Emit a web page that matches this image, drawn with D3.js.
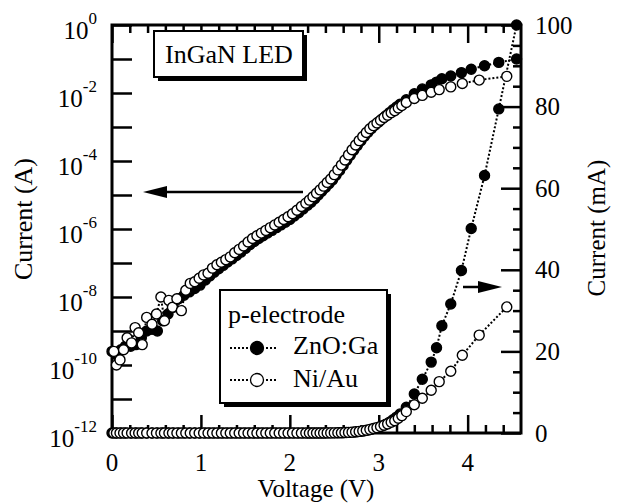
<!DOCTYPE html>
<html>
<head>
<meta charset="utf-8">
<script src="https://cdn.jsdelivr.net/npm/d3@7"></script>
<style>
  body { margin: 0; background: #fff; }
  svg { display: block; }
</style>
</head>
<body>
<svg id="chart" width="617" height="504"></svg>
<script>
"use strict";

// p-electrode ZnO:Ga (filled) : voltage (V) and log10 of current (A)
const voltZnO = [0.00, 0.05, 0.10, 0.15, 0.21, 0.27, 0.33, 0.39, 0.45, 0.51, 0.57, 0.63, 0.69, 0.75, 0.81, 0.87, 0.93, 0.99,
  1.05, 1.10, 1.15, 1.20, 1.25, 1.30, 1.35, 1.40, 1.45, 1.50, 1.55, 1.60, 1.65, 1.70, 1.75, 1.80, 1.85, 1.90, 1.95, 2.00, 2.05, 2.10, 2.15, 2.20,
  2.24, 2.28, 2.32, 2.36, 2.40, 2.44, 2.48, 2.52, 2.56, 2.60, 2.64, 2.68, 2.72, 2.76, 2.80, 2.84, 2.88, 2.92, 2.96, 3.00, 3.04, 3.08, 3.12, 3.16, 3.20, 3.24,
  3.31, 3.40, 3.49, 3.59, 3.65, 3.71, 3.81, 3.93, 4.04, 4.19, 4.35, 4.55];
const logCurrentZnO = [-9.60, -9.70, -9.55, -9.45, -9.45, -9.40, -9.20, -9.00, -8.95, -9.00, -8.70, -8.50, -8.30, -8.05, -7.95, -7.85, -7.75, -7.65,
  -7.50, -7.38, -7.27, -7.17, -7.07, -6.97, -6.88, -6.78, -6.68, -6.57, -6.46, -6.37, -6.28, -6.20, -6.12, -6.04, -5.96, -5.88, -5.80, -5.72, -5.62, -5.52, -5.41, -5.30,
  -5.21, -5.11, -5.00, -4.89, -4.78, -4.67, -4.56, -4.42, -4.28, -4.13, -3.98, -3.83, -3.68, -3.54, -3.40, -3.27, -3.15, -3.04, -2.94, -2.85, -2.76, -2.67, -2.58, -2.49, -2.41, -2.33,
  -2.20, -2.02, -1.88, -1.76, -1.68, -1.58, -1.50, -1.40, -1.30, -1.20, -1.10, -1.00];

// p-electrode Ni/Au (open)
const voltNiAu = [0.02, 0.05, 0.09, 0.13, 0.17, 0.22, 0.26, 0.30, 0.34, 0.39, 0.45, 0.50, 0.55, 0.59, 0.64, 0.68, 0.73, 0.78, 0.83, 0.88,
  0.93, 0.98, 1.03, 1.08, 1.13, 1.18, 1.23, 1.28, 1.33, 1.38,
  1.43, 1.48, 1.53, 1.58, 1.63, 1.68, 1.73, 1.78, 1.83, 1.88, 1.93, 1.98, 2.03, 2.08, 2.13, 2.18,
  2.22, 2.26, 2.30, 2.34, 2.38, 2.42, 2.46, 2.50, 2.54, 2.58, 2.62, 2.66, 2.70, 2.74, 2.78, 2.82, 2.86, 2.90, 2.94, 2.98, 3.02, 3.06, 3.10, 3.14, 3.18,
  3.22, 3.26, 3.31, 3.40, 3.49, 3.59, 3.68, 3.81, 3.94, 4.13, 4.44];
const logCurrentNiAu = [-9.60, -10.00, -9.85, -9.55, -9.20, -9.35, -8.90, -9.05, -9.40, -8.60, -8.80, -8.50, -8.00, -8.70, -8.10, -8.30, -8.05, -8.40, -7.80, -7.60,
  -7.55, -7.45, -7.35, -7.30, -7.15, -7.05, -6.98, -6.90, -6.82, -6.70,
  -6.60, -6.50, -6.38, -6.28, -6.20, -6.12, -6.04, -5.96, -5.88, -5.80, -5.72, -5.64, -5.55, -5.45, -5.34, -5.24,
  -5.15, -5.05, -4.95, -4.85, -4.74, -4.63, -4.53, -4.40, -4.26, -4.12, -3.97, -3.82, -3.67, -3.53, -3.40, -3.28, -3.16, -3.05, -2.96, -2.88, -2.80, -2.72, -2.65, -2.58, -2.52,
  -2.44, -2.37, -2.28, -2.16, -2.07, -1.98, -1.90, -1.82, -1.72, -1.62, -1.51];

const decadeTicks = [0, -1, -2, -3, -4, -5, -6, -7, -8, -9, -10, -11, -12];
const decadeLabels = [0, -2, -4, -6, -8, -10, -12];
const mATicks = [0, 20, 40, 60, 80, 100];
const mAMinorTicks = [5, 10, 15, 25, 30, 35, 45, 50, 55, 65, 70, 75, 85, 90, 95];
const voltTicks = [0, 1, 2, 3, 4];
const voltMinorTicks = [0.2, 0.4, 0.6, 0.8, 1.2, 1.4, 1.6, 1.8, 2.2, 2.4, 2.6, 2.8, 3.2, 3.4, 3.6, 3.8, 4.2, 4.4];

const plotLeft = 112, plotRight = 521, plotTop = 25, plotBottom = 433;
const serif = "'Liberation Serif', 'Times New Roman', Times, serif";

const svg = d3.select("#chart").attr("font-family", serif);

const x = d3.scaleLinear().domain([0, 4.6]).range([plotLeft, plotRight]);
const yLog = d3.scaleLog().domain([1e-12, 1]).range([plotBottom, plotTop]);
const yLin = d3.scaleLinear().domain([0, 100]).range([plotBottom, plotTop]);

function makeSeries(volts, logs) {
  return volts.map((v, i) => ({ v: v, amp: Math.pow(10, logs[i]) }));
}
const series = [
  { name: "ZnO:Ga", filled: true, data: makeSeries(voltZnO, logCurrentZnO) },
  { name: "Ni/Au", filled: false, data: makeSeries(voltNiAu, logCurrentNiAu) },
];

// ticks (all inward)
function tickAxis(axis, tx, ty) {
  svg.append("g")
    .attr("transform", `translate(${tx},${ty})`)
    .call(axis.tickFormat(""))
    .call((g) => g.select(".domain").remove())
    .call((g) => g.selectAll(".tick line").attr("stroke", "#000").attr("stroke-width", 2.5));
}
tickAxis(d3.axisLeft(yLog).tickValues(decadeTicks.map((e) => Math.pow(10, e))).tickSize(-20), plotLeft, 0);
tickAxis(d3.axisRight(yLin).tickValues(mATicks).tickSize(-20), plotRight, 0);
tickAxis(d3.axisRight(yLin).tickValues(mAMinorTicks).tickSize(-8), plotRight, 0);
tickAxis(d3.axisBottom(x).tickValues(voltTicks).tickSize(-18), 0, plotBottom);
tickAxis(d3.axisBottom(x).tickValues(voltMinorTicks).tickSize(-8), 0, plotBottom);
tickAxis(d3.axisTop(x).tickValues(voltTicks).tickSize(-18), 0, plotTop);
tickAxis(d3.axisTop(x).tickValues(voltMinorTicks).tickSize(-8), 0, plotTop);

// frame
svg.append("rect")
  .attr("x", plotLeft).attr("y", plotTop)
  .attr("width", plotRight - plotLeft).attr("height", plotBottom - plotTop)
  .attr("fill", "none").attr("stroke", "#000").attr("stroke-width", 3);

// tick labels
const leftLab = svg.append("g").selectAll("text").data(decadeLabels).enter()
  .append("text")
  .attr("x", 97)
  .attr("y", (d) => yLog(Math.pow(10, d)) + 14)
  .attr("text-anchor", "end")
  .attr("font-size", 25);
leftLab.append("tspan").text("10");
leftLab.append("tspan").attr("dy", -15).attr("font-size", 17).text((d) => d);

svg.append("g").selectAll("text").data(mATicks).enter()
  .append("text")
  .attr("x", 535)
  .attr("y", (d) => yLin(d) + 8.5)
  .attr("font-size", 25)
  .text((d) => d);

svg.append("g").selectAll("text").data(voltTicks).enter()
  .append("text")
  .attr("x", (d) => x(d))
  .attr("y", 471)
  .attr("text-anchor", "middle")
  .attr("font-size", 25)
  .text((d) => d);

// axis titles
svg.append("text").attr("x", 316).attr("y", 497).attr("text-anchor", "middle")
  .attr("font-size", 25).text("Voltage (V)");
svg.append("text").attr("transform", "translate(32,219) rotate(-90)").attr("text-anchor", "middle")
  .attr("font-size", 26).text("Current (A)");
svg.append("text").attr("transform", "translate(605,228) rotate(-90)").attr("text-anchor", "middle")
  .attr("font-size", 25).text("Current (mA)");

// data: log (A) and linear (mA) views of each series
const logLine = d3.line().x((d) => x(d.v)).y((d) => yLog(d.amp));
const linLine = d3.line().x((d) => x(d.v)).y((d) => yLin(d.amp * 1000));

series.forEach(function (s) {
  const g = svg.append("g");
  [logLine, linLine].forEach(function (ln) {
    g.append("path")
      .attr("d", ln(s.data))
      .attr("fill", "none")
      .attr("stroke", "#000")
      .attr("stroke-width", 2)
      .attr("stroke-dasharray", "2,2");
  });
  [(d) => yLog(d.amp), (d) => yLin(d.amp * 1000)].forEach(function (yf) {
    g.append("g").selectAll("circle").data(s.data).enter()
      .append("circle")
      .attr("cx", (d) => x(d.v))
      .attr("cy", yf)
      .attr("r", 5)
      .attr("fill", s.filled ? "#000" : "#fff")
      .attr("stroke", "#000")
      .attr("stroke-width", 1.4);
  });
});

// annotation boxes with drop shadow
function shadowBox(bx, by, bw, bh) {
  svg.append("rect").attr("x", bx + 4).attr("y", by + 4).attr("width", bw).attr("height", bh).attr("fill", "#000");
  svg.append("rect").attr("x", bx).attr("y", by).attr("width", bw).attr("height", bh)
    .attr("fill", "#fff").attr("stroke", "#000").attr("stroke-width", 2);
}

shadowBox(154, 31, 149, 46);
svg.append("text").attr("x", 229).attr("y", 63).attr("text-anchor", "middle")
  .attr("font-size", 26).text("InGaN LED");

shadowBox(220, 290, 167, 113);
svg.append("text").attr("x", 228).attr("y", 323).attr("font-size", 26).text("p-electrode");
series.forEach(function (s, i) {
  const ly = 348 + i * 32;
  svg.append("line")
    .attr("x1", 230).attr("x2", 278).attr("y1", ly).attr("y2", ly)
    .attr("stroke", "#000").attr("stroke-width", 2).attr("stroke-dasharray", "2,2");
  svg.append("circle")
    .attr("cx", 257).attr("cy", ly).attr("r", 6.5)
    .attr("fill", s.filled ? "#000" : "#fff")
    .attr("stroke", "#000").attr("stroke-width", 1.3);
  svg.append("text").attr("x", 293).attr("y", ly + 6 + i).attr("font-size", 26).text(s.name);
});

// arrows pointing at the axis each curve belongs to
svg.append("line").attr("x1", 303).attr("x2", 160).attr("y1", 192).attr("y2", 192)
  .attr("stroke", "#000").attr("stroke-width", 2.5);
svg.append("path").attr("d", "M143,192L167,186L167,198Z").attr("fill", "#000");
svg.append("line").attr("x1", 463).attr("x2", 485).attr("y1", 287).attr("y2", 287)
  .attr("stroke", "#000").attr("stroke-width", 2.5);
svg.append("path").attr("d", "M502,287L478,281L478,293Z").attr("fill", "#000");
</script>
</body>
</html>
